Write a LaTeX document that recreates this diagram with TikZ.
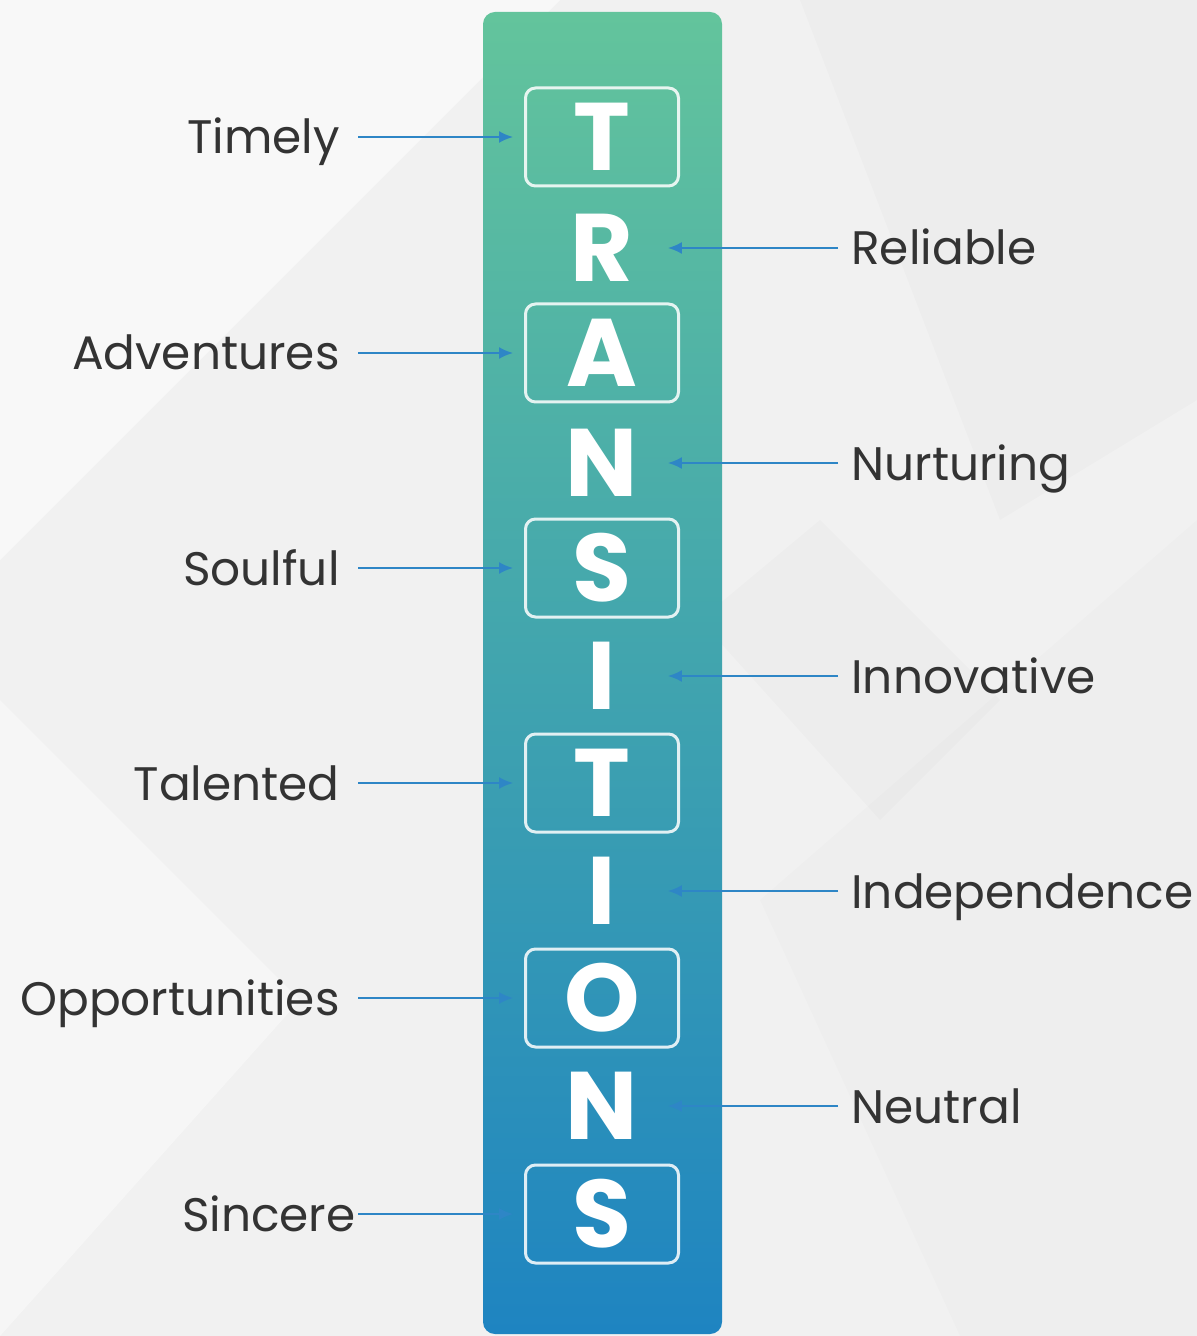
\documentclass[tikz,border=0pt]{standalone}
\usepackage{fontspec}
\setmainfont{Poppins}
\usetikzlibrary{arrows.meta}
\definecolor{bargreen}{HTML}{63C49C}
\definecolor{barteal}{HTML}{3FA4AC}
\definecolor{barblue}{HTML}{1E84C1}
\definecolor{arrowblue}{HTML}{2E86C6}
\definecolor{labelgray}{HTML}{333333}
\definecolor{bggray}{HTML}{F1F1F1}

\begin{document}
\begin{tikzpicture}[x=0.5pt,y=-0.5pt,
        letter/.style={text=white,font=\fontsize{48}{48}\selectfont\bfseries,
            minimum width=76.5pt,minimum height=49pt,inner sep=0pt},
        boxed/.style={letter,draw=white,draw opacity=.85,line width=1.5pt,rounded corners=5pt},
        leftlab/.style={anchor=base east,text=labelgray,font=\fontsize{23.5}{23.5}\selectfont,inner sep=0pt},
        rightlab/.style={anchor=base west,text=labelgray,font=\fontsize{23.5}{23.5}\selectfont,inner sep=0pt},
        pointer/.style={draw=arrowblue,line width=1pt,-{Latex[length=7pt,width=6pt]}},
        topointer/.style={pointer,shorten <=9pt,shorten >=5.5pt},
        frompointer/.style={pointer,shorten <=6.5pt,shorten >=-5.5pt}]
    \useasboundingbox (0,0) rectangle (1197,1336);
    \fill[bggray] (0,0) rectangle (1197,1336);
    \fill[white,opacity=.5] (0,0) -- (560,0) -- (0,560) -- cycle;
    \fill[white,opacity=.4] (0,700) -- (300,1000) -- (0,1336) -- cycle;
    \fill[black,opacity=.015] (800,0) -- (1197,0) -- (1197,400) -- (1000,520) -- cycle;
    \fill[black,opacity=.015] (700,620) -- (820,520) -- (1000,700) -- (880,820) -- cycle;
    \fill[black,opacity=.01] (760,900) -- (1197,520) -- (1197,1336) -- (960,1336) -- cycle;
    \shade[top color=bargreen,middle color=barteal,bottom color=barblue,rounded corners=6pt]
        (483,12) rectangle (722,1334);

    \node[boxed] (T1) at (602,137) {T};
    \node[letter] (R1) at (602,248) {R};
    \node[boxed] (A1) at (602,353) {A};
    \node[letter] (N1) at (602,463) {N};
    \node[boxed] (S1) at (602,568) {S};
    \node[letter] (I1) at (602,676) {I};
    \node[boxed] (T2) at (602,783) {T};
    \node[letter] (I2) at (602,891) {I};
    \node[boxed] (O1) at (602,998) {O};
    \node[letter] (N2) at (602,1106) {N};
    \node[boxed] (S2) at (602,1214) {S};

    \node[leftlab] (timely) at (340,154) {Timely};
    \node[rightlab] (reliable) at (851,265) {Reliable};
    \node[leftlab] (adventures) at (340,370) {Adventures};
    \node[rightlab] (nurturing) at (851,480) {Nurturing};
    \node[leftlab] (soulful) at (340,585) {Soulful};
    \node[rightlab] (innovative) at (851,693) {Innovative};
    \node[leftlab] (talented) at (340,800) {Talented};
    \node[rightlab] (independence) at (851,908) {Independence};
    \node[leftlab] (opportunities) at (340,1015) {Opportunities};
    \node[rightlab] (neutral) at (851,1123) {Neutral};
    \node[leftlab] (sincere) at (356,1231) {Sincere};

    \draw[topointer] (timely.east |- T1) -- (T1.west);
    \draw[frompointer] (reliable.west |- R1) -- (R1.east);
    \draw[topointer] (adventures.east |- A1) -- (A1.west);
    \draw[frompointer] (nurturing.west |- N1) -- (N1.east);
    \draw[topointer] (soulful.east |- S1) -- (S1.west);
    \draw[frompointer] (innovative.west |- I1) -- (I1.east);
    \draw[topointer] (talented.east |- T2) -- (T2.west);
    \draw[frompointer] (independence.west |- I2) -- (I2.east);
    \draw[topointer] (opportunities.east |- O1) -- (O1.west);
    \draw[frompointer] (neutral.west |- N2) -- (N2.east);
    \draw[topointer,shorten <=1pt] (sincere.east |- S2) -- (S2.west);
\end{tikzpicture}
\end{document}
